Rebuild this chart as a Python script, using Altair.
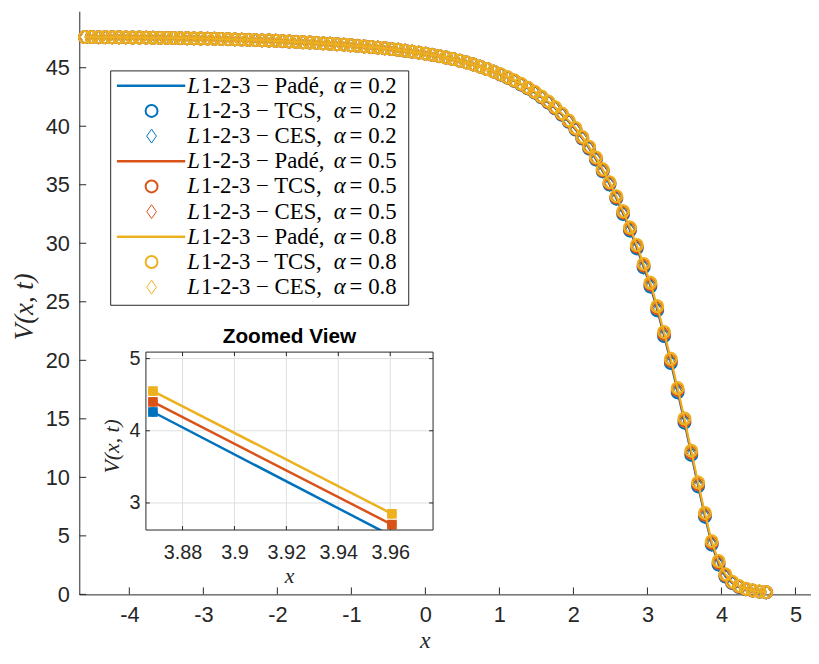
import altair as alt
import pandas as pd

# ---------------- data ----------------
ALPHAS = ["0.2", "0.5", "0.8"]
COLORS = ["#0072BD", "#D95319", "#EDB120"]
METHODS = ["Padé", "TCS", "CES"]

X_START = -4.6
X_STEP = 0.09205
N_PTS = 101

# V(x,t) values shared by the three alpha values (grid points 0..60)
V_COMMON = [
    47.62, 47.62, 47.61, 47.61, 47.60, 47.60, 47.59, 47.58, 47.58, 47.57,
    47.56, 47.55, 47.55, 47.54, 47.53, 47.52, 47.51, 47.50, 47.49, 47.47,
    47.46, 47.44, 47.42, 47.40, 47.38, 47.36, 47.34, 47.32, 47.30, 47.27,
    47.24, 47.21, 47.18, 47.15, 47.12, 47.08, 47.05, 47.01, 46.97, 46.92,
    46.87, 46.82, 46.77, 46.72, 46.66, 46.59, 46.53, 46.45, 46.37, 46.29,
    46.20, 46.10, 45.99, 45.87, 45.74, 45.60, 45.45, 45.28, 45.09, 44.89,
    44.67,
]
# front part (grid points 61..100)
V_FRONT_02 = [
    44.41, 44.15, 43.87, 43.57, 43.24, 42.87, 42.47, 42.02, 41.53, 40.98,
    40.38, 39.71, 38.95, 38.10, 37.16, 36.14, 35.02, 33.81, 32.50, 31.09,
    29.57, 27.94, 26.31, 24.28, 22.07, 19.77, 17.27, 14.67, 11.92, 9.23,
    6.64, 4.26, 2.54, 1.52, 0.96, 0.63, 0.44, 0.32, 0.23, 0.17,
]
V_FRONT_05 = [
    44.43, 44.17, 43.90, 43.60, 43.27, 42.91, 42.51, 42.07, 41.58, 41.04,
    40.44, 39.78, 39.02, 38.18, 37.25, 36.23, 35.12, 33.92, 32.62, 31.22,
    29.71, 28.09, 26.47, 24.45, 22.25, 19.95, 17.45, 14.85, 12.10, 9.40,
    6.80, 4.40, 2.70, 1.62, 1.02, 0.67, 0.46, 0.33, 0.24, 0.18,
]
V_FRONT_08 = [
    44.45, 44.19, 43.93, 43.63, 43.30, 42.95, 42.55, 42.12, 41.63, 41.10,
    40.50, 39.85, 39.09, 38.26, 37.34, 36.32, 35.22, 34.03, 32.74, 31.35,
    29.85, 28.24, 26.63, 24.62, 22.43, 20.13, 17.63, 15.03, 12.28, 9.57,
    6.96, 4.55, 2.85, 1.72, 1.08, 0.71, 0.48, 0.34, 0.25, 0.19,
]

X_TICKS = [-4, -3, -2, -1, 0, 1, 2, 3, 4, 5]
Y_TICKS = [0, 5, 10, 15, 20, 25, 30, 35, 40, 45]
XIN_TICKS = [3.88, 3.9, 3.92, 3.94, 3.96]
YIN_TICKS = [3, 4, 5]

# ---------------- tables ----------------
X_GRID = [round(X_START + X_STEP * k, 5) for k in range(N_PTS)]
SERIES = {
    "0.2": V_COMMON + V_FRONT_02,
    "0.5": V_COMMON + V_FRONT_05,
    "0.8": V_COMMON + V_FRONT_08,
}
rows = []
for a in ALPHAS:
    for xv, vv in zip(X_GRID, SERIES[a]):
        rows.append({"x": xv, "V": vv, "alpha": a})
df = pd.DataFrame(rows)

legend_rows = []
r = 0
for a in ALPHAS:
    for m in METHODS:
        legend_rows.append({"row": r, "alpha": a, "method": m,
                            "body": f"1-2-3 \u2212 {m},", "eq": f"= {a}"})
        r += 1
leg_df = pd.DataFrame(legend_rows)

# ---------------- layout constants ----------------
W, H = 739, 589
AX = "#262626"
XMAIN = [-4.676, 5.21]
YMAIN = [0, 49.83]
XIN = [3.8659, 3.9765]
YIN = [2.625, 5.09]
XIN_RANGE = [67.3, 357.3]
YIN_RANGE = [524.0, 344.3]
SANS = "Liberation Sans"
SERIF = "Liberation Serif"
DIAMOND = "M0,-1L0.7,0L0,1L-0.7,0Z"

color_scale = alt.Scale(domain=ALPHAS, range=COLORS)


def main_x(field):
    return alt.X(field, scale=alt.Scale(domain=XMAIN, nice=False, zero=False),
                 axis=alt.Axis(orient="bottom", values=X_TICKS, ticks=False, grid=False,
                               domainColor=AX, domainWidth=1,
                               labelFont=SANS, labelFontSize=22, labelColor=AX, labelPadding=10,
                               labelExpr="datum.value < 0 ? '-' + abs(datum.value) : '' + datum.value",
                               title="x", titleFont=SERIF, titleFontStyle="italic",
                               titleFontWeight="normal", titleFontSize=24, titleColor=AX,
                               titleX=349, titleY=47, titleAlign="center", titleBaseline="middle"))


def main_y(field):
    return alt.Y(field, scale=alt.Scale(domain=YMAIN, nice=False, zero=False),
                 axis=alt.Axis(orient="left", values=Y_TICKS, ticks=False, grid=False,
                               domainColor=AX, domainWidth=1,
                               labelFont=SANS, labelFontSize=22, labelColor=AX, labelPadding=10,
                               title="V(x, t)", titleFont=SERIF, titleFontStyle="italic",
                               titleFontWeight="normal", titleFontSize=27, titleColor=AX,
                               titleX=-55, titleY=298, titleAngle=270,
                               titleAlign="center", titleBaseline="middle"))


def in_x(field):
    return alt.X(field, scale=alt.Scale(domain=XIN, range=XIN_RANGE, nice=False, zero=False),
                 axis=alt.Axis(orient="bottom", offset=-(H - YIN_RANGE[0]), values=XIN_TICKS,
                               format="~g", ticks=False, grid=False, domain=False,
                               labelFont=SANS, labelFontSize=20, labelColor=AX, labelPadding=13,
                               title="x", titleFont=SERIF, titleFontStyle="italic",
                               titleFontWeight="normal", titleFontSize=22, titleColor=AX,
                               titleX=212, titleY=46, titleAlign="center", titleBaseline="middle"))


def in_y(field):
    return alt.Y(field, scale=alt.Scale(domain=YIN, range=YIN_RANGE, nice=False, zero=False),
                 axis=alt.Axis(orient="left", offset=-XIN_RANGE[0], values=YIN_TICKS,
                               ticks=False, grid=False, domain=False,
                               labelFont=SANS, labelFontSize=20, labelColor=AX, labelPadding=6,
                               title="V(x, t)", titleFont=SERIF, titleFontStyle="italic",
                               titleFontWeight="normal", titleFontSize=22, titleColor=AX,
                               titleX=-35, titleY=439, titleAngle=270,
                               titleAlign="center", titleBaseline="middle"))


# ---------------- main plot ----------------
main_layers = []
for a, c in zip(ALPHAS, COLORS):
    base = alt.Chart(df).transform_filter(alt.datum.alpha == a)
    main_layers.append(base.mark_line(strokeWidth=2, color=c).encode(
        x=main_x("x:Q"), y=main_y("V:Q")))
    main_layers.append(base.mark_point(shape="circle", filled=False, size=145,
                                       strokeWidth=2, color=c, opacity=1).encode(
        x=main_x("x:Q"), y=main_y("V:Q")))
    main_layers.append(base.mark_point(shape=DIAMOND, filled=False, size=196,
                                       strokeWidth=1, color=c, opacity=1).encode(
        x=main_x("x:Q"), y=main_y("V:Q")))

xt = alt.Chart(pd.DataFrame({"t": X_TICKS})).mark_rule(color=AX, strokeWidth=1).encode(
    x=main_x("t:Q"), y=alt.value(H), y2=alt.value(H - 7))
yt = alt.Chart(pd.DataFrame({"t": Y_TICKS})).mark_rule(color=AX, strokeWidth=1).encode(
    y=main_y("t:Q"), x=alt.value(0), x2=alt.value(7))

main = alt.layer(*main_layers, xt, yt)

# ---------------- inset ----------------
frame_df = pd.DataFrame({"x0": [XIN[0]], "x1": [XIN[1]], "y0": [YIN[0]], "y1": [YIN[1]],
                         "yc": [YIN[0] - 0.14]})
bg = alt.Chart(frame_df).mark_rect(fill="white", strokeWidth=0).encode(
    x=in_x("x0:Q"), x2="x1:Q", y=in_y("y0:Q"), y2="y1:Q")
gx = alt.Chart(pd.DataFrame({"t": XIN_TICKS})).mark_rule(color="#dfdfdf", strokeWidth=1).encode(
    x=in_x("t:Q"), y=alt.value(YIN_RANGE[0]), y2=alt.value(YIN_RANGE[1]))
gy = alt.Chart(pd.DataFrame({"t": YIN_TICKS})).mark_rule(color="#dfdfdf", strokeWidth=1).encode(
    y=in_y("t:Q"), x=alt.value(XIN_RANGE[0]), x2=alt.value(XIN_RANGE[1]))
tx1 = alt.Chart(pd.DataFrame({"t": XIN_TICKS})).mark_rule(color=AX, strokeWidth=1).encode(
    x=in_x("t:Q"), y=alt.value(YIN_RANGE[0]), y2=alt.value(YIN_RANGE[0] - 4))
tx2 = alt.Chart(pd.DataFrame({"t": XIN_TICKS})).mark_rule(color=AX, strokeWidth=1).encode(
    x=in_x("t:Q"), y=alt.value(YIN_RANGE[1]), y2=alt.value(YIN_RANGE[1] + 4))
ty1 = alt.Chart(pd.DataFrame({"t": YIN_TICKS})).mark_rule(color=AX, strokeWidth=1).encode(
    y=in_y("t:Q"), x=alt.value(XIN_RANGE[0]), x2=alt.value(XIN_RANGE[0] + 4))
ty2 = alt.Chart(pd.DataFrame({"t": YIN_TICKS})).mark_rule(color=AX, strokeWidth=1).encode(
    y=in_y("t:Q"), x=alt.value(XIN_RANGE[1]), x2=alt.value(XIN_RANGE[1] - 4))

inset_layers = [bg, gx, gy, tx1, tx2, ty1, ty2]
in_filter = (alt.datum.x >= XIN[0]) & (alt.datum.x <= XIN[1])
vis_filter = (alt.datum.V >= YIN[0]) & (alt.datum.V <= YIN[1])
for a, c in zip(ALPHAS, COLORS):
    b = alt.Chart(df).transform_filter(alt.datum.alpha == a).transform_filter(in_filter)
    inset_layers.append(b.mark_line(strokeWidth=2.5, color=c).encode(
        x=in_x("x:Q"), y=in_y("V:Q")))
    inset_layers.append(b.transform_filter(vis_filter).mark_point(
        shape="circle", filled=True, size=90, color=c, opacity=1).encode(
        x=in_x("x:Q"), y=in_y("V:Q")))
    inset_layers.append(b.transform_filter(vis_filter).mark_point(
        shape="square", filled=True, size=95, color=c, opacity=1).encode(
        x=in_x("x:Q"), y=in_y("V:Q")))

cover = alt.Chart(frame_df).mark_rect(fill="white", strokeWidth=0).encode(
    x=in_x("x0:Q"), x2="x1:Q", y=in_y("yc:Q"), y2="y0:Q")
frame = alt.Chart(frame_df).mark_rect(fill="transparent", stroke=AX, strokeWidth=1).encode(
    x=in_x("x0:Q"), x2="x1:Q", y=in_y("y0:Q"), y2="y1:Q")
title = alt.Chart(pd.DataFrame({"t": ["Zoomed View"]})).mark_text(
    font=SANS, fontSize=21, fontWeight="bold", color="black", baseline="middle", align="center").encode(
    text="t:N", x=alt.value((XIN_RANGE[0] + XIN_RANGE[1]) / 2), y=alt.value(329))
inset_layers += [cover, frame, title]
inset = alt.layer(*inset_layers)

# ---------------- legend ----------------
ROW_Y = alt.Y("row:Q", scale=alt.Scale(domain=[0, 8], range=[75.3, 278.7], nice=False, zero=False),
              axis=None)
leg_color = alt.Color("alpha:N", scale=color_scale, legend=None)
LFS = 23
lb = alt.Chart(pd.DataFrame({"k": [0]})).mark_rect(fill="white", stroke=AX, strokeWidth=1).encode(
    x=alt.value(31.7), x2=alt.value(332.7), y=alt.value(60.3), y2=alt.value(297))
leg = alt.Chart(leg_df)
l_line = leg.transform_filter(alt.datum.method == "Padé").mark_rule(strokeWidth=2.5).encode(
    y=ROW_Y, x=alt.value(38), x2=alt.value(107), color=leg_color)
l_circ = leg.transform_filter(alt.datum.method == "TCS").mark_point(
    shape="circle", filled=False, size=145, strokeWidth=2, opacity=1).encode(
    y=ROW_Y, x=alt.value(73), color=leg_color)
l_dia = leg.transform_filter(alt.datum.method == "CES").mark_point(
    shape=DIAMOND, filled=False, size=196, strokeWidth=1, opacity=1).encode(
    y=ROW_Y, x=alt.value(73), color=leg_color)
t_L = leg.mark_text(font=SERIF, fontStyle="italic", fontSize=LFS, color="black",
                    align="left", baseline="middle").encode(
    y=ROW_Y, x=alt.value(109), text=alt.value("L"))
t_body = leg.mark_text(font=SERIF, fontSize=LFS, color="black", align="left", baseline="middle").encode(
    y=ROW_Y, x=alt.value(123), text="body:N")
t_a = leg.mark_text(font=SERIF, fontStyle="italic", fontSize=LFS, color="black",
                    align="left", baseline="middle").encode(
    y=ROW_Y, x=alt.value(257), text=alt.value("\u03b1"))
t_eq = leg.mark_text(font=SERIF, fontSize=LFS, color="black", align="left", baseline="middle").encode(
    y=ROW_Y, x=alt.value(273), text="eq:N")
legend = alt.layer(lb, l_line, l_circ, l_dia, t_L, t_body, t_a, t_eq)

chart = alt.layer(main, inset, legend).resolve_scale(
    x="independent", y="independent", color="independent"
).properties(
    width=W, height=H,
    autosize=alt.AutoSizeParams(type="none"),
    padding={"left": 72, "top": 0, "right": 0, "bottom": 59},
    background="white",
).configure_view(stroke="transparent")

chart.save("out.html", embed_options={"renderer": "svg", "actions": False})
